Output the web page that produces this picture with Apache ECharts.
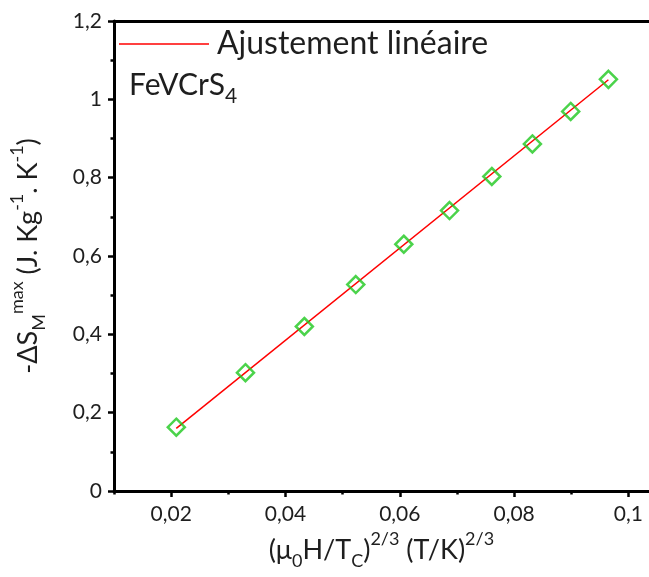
<!DOCTYPE html>
<html>
<head>
<meta charset="utf-8">
<script src="https://cdn.jsdelivr.net/npm/echarts@6/dist/echarts.min.js"></script>
<style>
html,body{margin:0;padding:0;background:#fff;}
#c{width:649px;height:577px;}
</style>
</head>
<body>
<div id="c"></div>
<script>
// Data
const xValues = [0.0209, 0.0330, 0.0433, 0.0523, 0.0607, 0.0687, 0.0761, 0.0832, 0.0899, 0.0965];
const yValues = [0.163, 0.302, 0.420, 0.527, 0.630, 0.716, 0.803, 0.886, 0.969, 1.051];
const fitX = [0.0209, 0.0965];
const fitY = [0.160, 1.050];
const xMajorTicks = [0.02, 0.04, 0.06, 0.08, 0.1];
const xMinorTicks = [0.01, 0.03, 0.05, 0.07, 0.09];
const fitName = 'Ajustement linéaire';

const FONT = 'Lato';
const TXT = '#1e1e1e';
const fmt = v => String(Number(v.toFixed(3))).replace('.', ',');

const chart = echarts.init(document.getElementById('c'), null, {renderer: 'canvas'});
const scatterData = xValues.map((x, i) => [x, yValues[i]]);
const fitData = fitX.map((x, i) => [x, fitY[i]]);

chart.setOption({
  backgroundColor: '#ffffff',
  animation: false,
  textStyle: {fontFamily: FONT, color: TXT},
  grid: {left: 105, right: 0, top: 21, bottom: 86},
  title: {
    left: 124, top: 58,
    text: '{a|FeVCrS}{b|4}',
    textStyle: {
      fontWeight: 'normal',
      rich: {
        a: {fontFamily: FONT, fontSize: 30, fontWeight: 'normal', color: TXT, lineHeight: 44},
        b: {fontFamily: FONT, fontSize: 21, fontWeight: 'normal', color: TXT, lineHeight: 21, verticalAlign: 'bottom'}
      }
    }
  },
  legend: {
    left: 114, top: 23,
    data: [{name: fitName, icon: 'rect'}],
    itemWidth: 90, itemHeight: 1.6,
    itemStyle: {color: '#ff0000', borderWidth: 0},
    textStyle: {fontFamily: FONT, fontSize: 32, color: TXT, padding: [0, 0, 0, 3]}
  },
  xAxis: [
    {
      type: 'value', position: 'bottom',
      min: 0.01, max: 0.1036, interval: 0.01,
      name: '{t|(μ}{s|0}{t|H/T}{s|C}{t|)}{p|2/3}{t| (T/K)}{p|2/3}',
      nameLocation: 'middle', nameGap: 37,
      nameTextStyle: {
        rich: {
          t: {fontFamily: FONT, fontSize: 27, color: TXT, lineHeight: 40},
          s: {fontFamily: FONT, fontSize: 18, color: TXT, lineHeight: 18, verticalAlign: 'bottom'},
          p: {fontFamily: FONT, fontSize: 18, color: TXT, lineHeight: 18, verticalAlign: 'top'}
        }
      },
      axisLine: {show: true, onZero: false, lineStyle: {color: '#000', width: 3}},
      axisTick: {show: true, inside: false, length: 6, customValues: xMajorTicks, lineStyle: {color: '#000', width: 2.5}},
      axisLabel: {show: true, customValues: xMajorTicks, formatter: fmt, fontFamily: FONT, fontSize: 21, color: TXT, margin: 13, showMaxLabel: true},
      splitLine: {show: false}
    },
    {
      type: 'value', position: 'bottom',
      min: 0.01, max: 0.1036, interval: 0.01,
      axisLine: {show: false},
      axisTick: {show: true, inside: false, length: 3.5, customValues: xMinorTicks, lineStyle: {color: '#000', width: 2.5}},
      axisLabel: {show: false},
      splitLine: {show: false}
    },
    {
      type: 'value', position: 'top',
      min: 0.01, max: 0.1036, interval: 0.01,
      axisLine: {show: true, onZero: false, lineStyle: {color: '#000', width: 3}},
      axisTick: {show: false},
      axisLabel: {show: false},
      splitLine: {show: false}
    }
  ],
  yAxis: {
    type: 'value',
    min: 0, max: 1.2, interval: 0.2,
    name: '{t|-ΔS}{s|M}{p|max}{t| (J. Kg}{p|-1}{t|. K}{p|-1}{t|)}',
    nameLocation: 'middle', nameGap: 66, nameRotate: 90,
    nameTextStyle: {
      rich: {
        t: {fontFamily: FONT, fontSize: 27, color: TXT, lineHeight: 40},
        s: {fontFamily: FONT, fontSize: 18, color: TXT, lineHeight: 18, verticalAlign: 'bottom'},
        p: {fontFamily: FONT, fontSize: 18, color: TXT, lineHeight: 18, verticalAlign: 'top'}
      }
    },
    axisLine: {show: true, onZero: false, lineStyle: {color: '#000', width: 3}},
    axisTick: {show: true, inside: false, length: 6, lineStyle: {color: '#000', width: 2.5}},
    minorTick: {show: true, splitNumber: 2, length: 3.5, lineStyle: {color: '#000', width: 2.5}},
    axisLabel: {formatter: fmt, fontFamily: FONT, fontSize: 21, color: TXT, margin: 12},
    splitLine: {show: false}
  },
  series: [
    {
      name: fitName,
      type: 'line',
      xAxisIndex: 0,
      data: fitData,
      symbol: 'none',
      showSymbol: false,
      lineStyle: {color: '#ff0000', width: 1.5},
      itemStyle: {color: '#ff0000'},
      z: 2
    },
    {
      name: 'FeVCrS4',
      type: 'scatter',
      xAxisIndex: 0,
      data: scatterData,
      symbol: 'diamond',
      symbolSize: 17,
      itemStyle: {color: 'rgba(0,0,0,0)', borderColor: '#1ec81e', borderWidth: 2.5},
      z: 3
    }
  ]
});
</script>
</body>
</html>
